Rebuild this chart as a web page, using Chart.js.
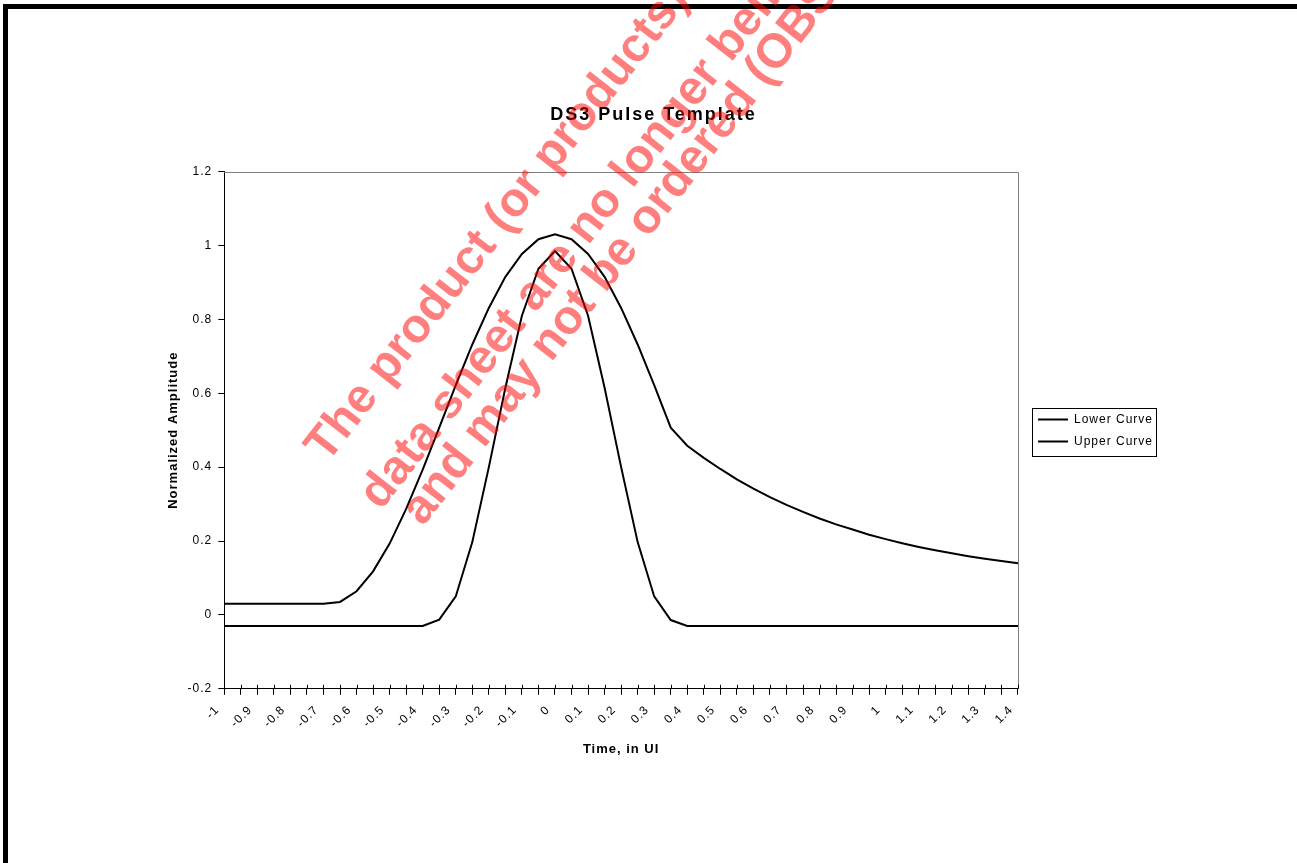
<!DOCTYPE html>
<html>
<head>
<meta charset="utf-8">
<title>DS3 Pulse Template</title>
<script src="https://cdn.jsdelivr.net/npm/chart.js@4.4.1/dist/chart.umd.min.js"></script>
<style>
  html, body { margin: 0; padding: 0; background: #fff; }
  #page { position: relative; width: 1297px; height: 863px; overflow: hidden; }
  #frame { position: absolute; left: 3px; top: 4px; width: 1310px; height: 855px;
           border-top: 5px solid #000; border-left: 5px solid #000; border-bottom: 1px solid #000; }
  #chart { position: absolute; left: 0; top: 0; }
</style>
</head>
<body>
<div id="page">
  <div id="frame"></div>
  <canvas id="chart" width="1297" height="863"></canvas>
</div>
<script>
// time axis, in UI (one category every 0.05 UI, labelled every 0.1)
const timeUI = ["-1", "-0.95", "-0.9", "-0.85", "-0.8", "-0.75", "-0.7", "-0.65", "-0.6", "-0.55",
                "-0.5", "-0.45", "-0.4", "-0.35", "-0.3", "-0.25", "-0.2", "-0.15", "-0.1", "-0.05",
                "0", "0.05", "0.1", "0.15", "0.2", "0.25", "0.3", "0.35", "0.4", "0.45",
                "0.5", "0.55", "0.6", "0.65", "0.7", "0.75", "0.8", "0.85", "0.9", "0.95",
                "1", "1.05", "1.1", "1.15", "1.2", "1.25", "1.3", "1.35", "1.4"];

const lowerCurve = [-0.03, -0.03, -0.03, -0.03, -0.03, -0.03, -0.03, -0.03, -0.03, -0.03,
                    -0.03, -0.03, -0.03, -0.013, 0.05, 0.197, 0.40, 0.615, 0.81, 0.937,
                    0.985, 0.937, 0.81, 0.615, 0.40, 0.197, 0.05, -0.014, -0.03, -0.03,
                    -0.03, -0.03, -0.03, -0.03, -0.03, -0.03, -0.03, -0.03, -0.03, -0.03,
                    -0.03, -0.03, -0.03, -0.03, -0.03, -0.03, -0.03, -0.03, -0.03];

const upperCurve = [0.03, 0.03, 0.03, 0.03, 0.03, 0.03, 0.03, 0.035, 0.064, 0.118,
                    0.193, 0.287, 0.393, 0.507, 0.622, 0.732, 0.831, 0.915, 0.977, 1.017,
                    1.03, 1.017, 0.977, 0.915, 0.831, 0.732, 0.622, 0.507, 0.458, 0.425,
                    0.395, 0.367, 0.342, 0.319, 0.298, 0.279, 0.261, 0.245, 0.231, 0.217,
                    0.205, 0.194, 0.184, 0.175, 0.167, 0.159, 0.152, 0.146, 0.140];

const yTicks = [-0.2, 0, 0.2, 0.4, 0.6, 0.8, 1, 1.2];

const watermark = [
    "The product (or products) described in this",
    "data sheet are no longer being manufactured",
    "and may not be ordered (OBSOLETE)"
];

const FONT = "'Liberation Sans', Arial, sans-serif";

// Excel-like spacing of the text, wider for the title
const spacing = {
    id: "spacing",
    afterInit(chart) {
        const tb = chart.titleBlock;
        const draw = tb.draw.bind(tb);
        tb.draw = function (area) {
            const c = chart.ctx;
            const prev = c.letterSpacing;
            c.letterSpacing = "2px";
            draw(area);
            c.letterSpacing = prev;
        };
    },
    beforeUpdate(chart) { chart.ctx.letterSpacing = "1px"; },
    afterLayout(chart) {
        // legend sits a bit away from the plot, title a bit to the left
        chart.legend.left += 10;
        chart.legend.right += 10;
        chart.legend.top -= 3;
        chart.legend.bottom -= 3;
        chart.titleBlock.left -= 4;
        chart.titleBlock.right -= 4;
    },
    beforeDraw(chart) { chart.ctx.letterSpacing = "1px"; }
};

// grey frame on top/right of the plot and the inner half of the cross ticks
const plotFrame = {
    id: "plotFrame",
    beforeDatasetsDraw(chart) {
        const { ctx, chartArea: a } = chart;
        ctx.save();
        ctx.lineWidth = 1;
        ctx.strokeStyle = "#808080";
        ctx.beginPath();
        ctx.moveTo(a.left, Math.round(a.top) + 0.5);
        ctx.lineTo(Math.round(a.right) + 0.5, Math.round(a.top) + 0.5);
        ctx.lineTo(Math.round(a.right) + 0.5, a.bottom);
        ctx.stroke();

        const xs = chart.scales.x;
        ctx.strokeStyle = "#000";
        ctx.beginPath();
        xs.ticks.forEach((t, i) => {
            const px = Math.round(xs.getPixelForTick(i)) + 0.5;
            ctx.moveTo(px, a.bottom);
            ctx.lineTo(px, a.bottom - 4);
        });
        ctx.stroke();
        ctx.restore();
    }
};

// box around the legend, like Excel
const legendBox = {
    id: "legendBox",
    afterDraw(chart) {
        const boxes = chart.legend.legendHitBoxes;
        if (!boxes || !boxes.length) return;
        const left = Math.min(...boxes.map(b => b.left)) - 6;
        const right = Math.max(...boxes.map(b => b.left + b.width)) + 3;
        const top = boxes[0].top - 6;
        const bottom = boxes[boxes.length - 1].top + boxes[boxes.length - 1].height + 8;
        const ctx = chart.ctx;
        ctx.save();
        ctx.strokeStyle = "#000";
        ctx.lineWidth = 1;
        ctx.strokeRect(Math.round(left) + 0.5, Math.round(top) + 0.5, Math.round(right - left), Math.round(bottom - top));
        ctx.restore();
    }
};

// red "obsolete" stamp over the page
const stamp = {
    id: "stamp",
    afterDraw(chart) {
        const ctx = chart.ctx;
        const starts = [[327, 464], [381, 511], [423, 527]];
        ctx.save();
        ctx.letterSpacing = "0px";
        ctx.font = "bold 48px " + FONT;
        ctx.fillStyle = "rgba(255, 0, 0, 0.5)";
        ctx.textAlign = "left";
        ctx.textBaseline = "alphabetic";
        watermark.forEach((line, i) => {
            ctx.save();
            ctx.translate(starts[i][0], starts[i][1]);
            ctx.rotate(-52 * Math.PI / 180);
            ctx.fillText(line, 0, 0);
            ctx.restore();
        });
        ctx.restore();
    }
};

new Chart(document.getElementById("chart"), {
    type: "line",
    data: {
        labels: timeUI,
        datasets: [
            { label: "Lower Curve", data: lowerCurve, borderColor: "#000", backgroundColor: "#000",
              borderWidth: 2, pointRadius: 0, tension: 0, fill: false },
            { label: "Upper Curve", data: upperCurve, borderColor: "#000", backgroundColor: "#000",
              borderWidth: 2, pointRadius: 0, tension: 0, fill: false }
        ]
    },
    options: {
        responsive: false,
        animation: false,
        devicePixelRatio: 1,
        layout: { padding: { left: 162, right: 144, top: 104, bottom: 100 } },
        plugins: {
            title: {
                display: true,
                text: "DS3 Pulse Template",
                color: "#000",
                font: { family: FONT, size: 18, weight: "bold" },
                padding: { top: 0, bottom: 46 }
            },
            legend: {
                position: "right",
                labels: {
                    usePointStyle: true,
                    pointStyle: "line",
                    pointStyleWidth: 30,
                    color: "#000",
                    padding: 10,
                    font: { family: FONT, size: 12 }
                }
            },
            tooltip: { enabled: false }
        },
        scales: {
            x: {
                type: "category",
                grid: { drawOnChartArea: false, drawTicks: true, tickLength: 6, color: "#000" },
                border: { color: "#000", width: 1 },
                ticks: {
                    autoSkip: false,
                    minRotation: 45,
                    maxRotation: 45,
                    color: "#000",
                    padding: 8,
                    labelOffset: -7,
                    font: { family: FONT, size: 12 },
                    callback: (v, i) => (i % 2 === 0 ? timeUI[i] : "")
                },
                title: {
                    display: true,
                    text: "Time, in UI",
                    color: "#000",
                    font: { family: FONT, size: 13, weight: "bold" },
                    padding: { top: 3, bottom: 6 }
                }
            },
            y: {
                min: -0.2,
                max: 1.2,
                afterBuildTicks: s => { s.ticks = yTicks.map(v => ({ value: v })); },
                grid: { drawOnChartArea: false, drawTicks: true, tickLength: 6, color: "#000" },
                border: { color: "#000", width: 1 },
                ticks: {
                    color: "#000",
                    padding: 6,
                    font: { family: FONT, size: 12 },
                    callback: v => String(v)
                },
                title: {
                    display: true,
                    text: "Normalized Amplitude",
                    color: "#000",
                    font: { family: FONT, size: 13, weight: "bold" },
                    padding: { top: 4, bottom: 0 }
                }
            }
        }
    },
    plugins: [spacing, plotFrame, legendBox, stamp]
});
</script>
</body>
</html>
